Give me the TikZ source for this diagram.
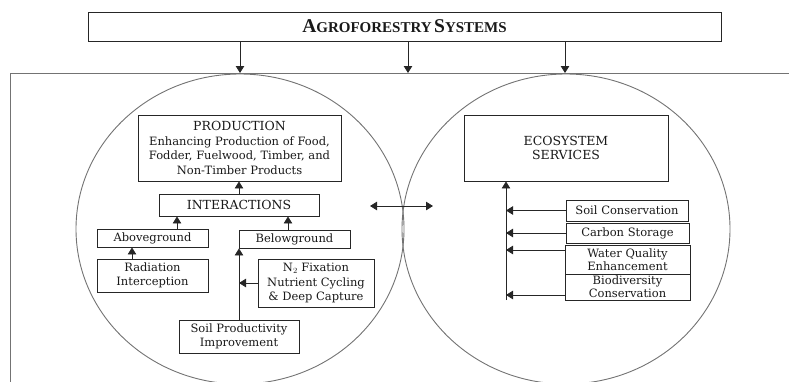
\documentclass[tikz,border=0pt]{standalone}
\usepackage{fontspec}
\setmainfont{DejaVu Serif}
\newfontfamily\titlefont{Liberation Serif}
\usetikzlibrary{arrows.meta}
\begin{document}
\begin{tikzpicture}[x=1pt,y=-1pt,
  box/.style={draw=black!85, line width=0.9pt, inner sep=0pt, align=center, text=black!90,
    font=\fontsize{11.5}{14.6}\selectfont},
  capsbox/.style={box, font=\fontsize{12.5}{14.6}\selectfont},
  tightbox/.style={box, font=\fontsize{11.5}{13}\selectfont},
  arr/.style={draw=black!85, line width=0.9pt, -{Triangle[length=7pt,width=8.5pt]}},
  dblarr/.style={draw=black!85, line width=0.9pt, {Triangle[length=7pt,width=8.5pt]}-{Triangle[length=7pt,width=8.5pt]}},
  outerline/.style={draw=black!55, line width=0.9pt}]
\useasboundingbox (0,0) rectangle (789,381);
\clip (0,0) rectangle (789,381);

% outer frame and circles
\draw[outerline] (800,73) -- (10,73) -- (10,400);
\draw[outerline] (240,229) ellipse [x radius=164pt, y radius=155pt];
\draw[outerline] (566,229) ellipse [x radius=164pt, y radius=155pt];

% title
\node[box, minimum width=633pt, minimum height=29pt, font=\titlefont\bfseries] (title) at (404.5,26.5)
  {{\fontsize{19.5}{19.5}\selectfont A}{\fontsize{15}{15}\selectfont GROFORESTRY} {\fontsize{19.5}{19.5}\selectfont S}{\fontsize{15}{15}\selectfont YSTEMS}};
\coordinate (t1) at (240,73);
\coordinate (t2) at (408,73);
\coordinate (t3) at (565,73);
\draw[arr] (title.south -| t1) -- (t1);
\draw[arr] (title.south -| t2) -- (t2);
\draw[arr] (title.south -| t3) -- (t3);

% left side
\node[box, minimum width=203pt, minimum height=66pt] (prod) at (239.5,148)
  {{\fontsize{12.5}{14.6}\selectfont PRODUCTION}\\Enhancing Production of Food,\\Fodder, Fuelwood, Timber, and\\Non-Timber Products};
\node[capsbox, minimum width=160pt, minimum height=22pt] (inter) at (239,205) {INTERACTIONS};
\node[box, minimum width=111pt, minimum height=18pt] (above) at (152.5,238) {Aboveground};
\node[box, minimum width=111pt, minimum height=18pt] (below) at (294.5,239) {Belowground};
\node[box, minimum width=111pt, minimum height=33pt] (rad) at (152.5,275.5) {Radiation\\Interception};
\node[box, minimum width=116pt, minimum height=48pt] (n2) at (316,283)
  {N$_2$ Fixation\\Nutrient Cycling\\\& Deep Capture};
\node[box, minimum width=120pt, minimum height=33pt] (soil) at (239,336.5) {Soil Productivity\\Improvement};

\coordinate (xa) at (177,0);
\coordinate (xb) at (288,0);
\coordinate (xr) at (132,0);
\draw[arr] (inter.north) -- (inter.north |- prod.south);
\draw[arr] (above.north -| xa) -- (inter.south -| xa);
\draw[arr] (below.north -| xb) -- (inter.south -| xb);
\draw[arr] (rad.north -| xr) -- (above.south -| xr);
\draw[arr] (soil.north) -- (soil.north |- below.south);
\draw[arr] (n2.west) -- (n2.west -| soil.north);

% middle double arrow
\coordinate (d1) at (370,206);
\coordinate (d2) at (433,206);
\draw[dblarr] (d1) -- (d2);

% right side
\node[capsbox, minimum width=204pt, minimum height=66pt] (eco) at (566,148) {ECOSYSTEM\\SERVICES};
\node[box, minimum width=122pt, minimum height=21pt] (sc) at (627,210.5) {Soil Conservation};
\node[box, minimum width=123pt, minimum height=20pt] (cs) at (627.5,233) {Carbon Storage};
\node[tightbox, minimum width=125pt, minimum height=29pt] (wq) at (627.5,259.5) {Water Quality\\Enhancement};
\node[tightbox, minimum width=125pt, minimum height=26pt] (bio) at (627.5,287) {Biodiversity\\Conservation};

\coordinate (vbot) at (506,300);
\draw[arr] (vbot) -- (vbot |- eco.south);
\draw[arr] (sc.west) -- (sc.west -| vbot);
\draw[arr] (cs.west) -- (cs.west -| vbot);
\draw[arr] ([yshift=9.5pt]wq.west) -- ([yshift=9.5pt]wq.west -| vbot);
\draw[arr] ([yshift=-8pt]bio.west) -- ([yshift=-8pt]bio.west -| vbot);
\end{tikzpicture}
\end{document}
